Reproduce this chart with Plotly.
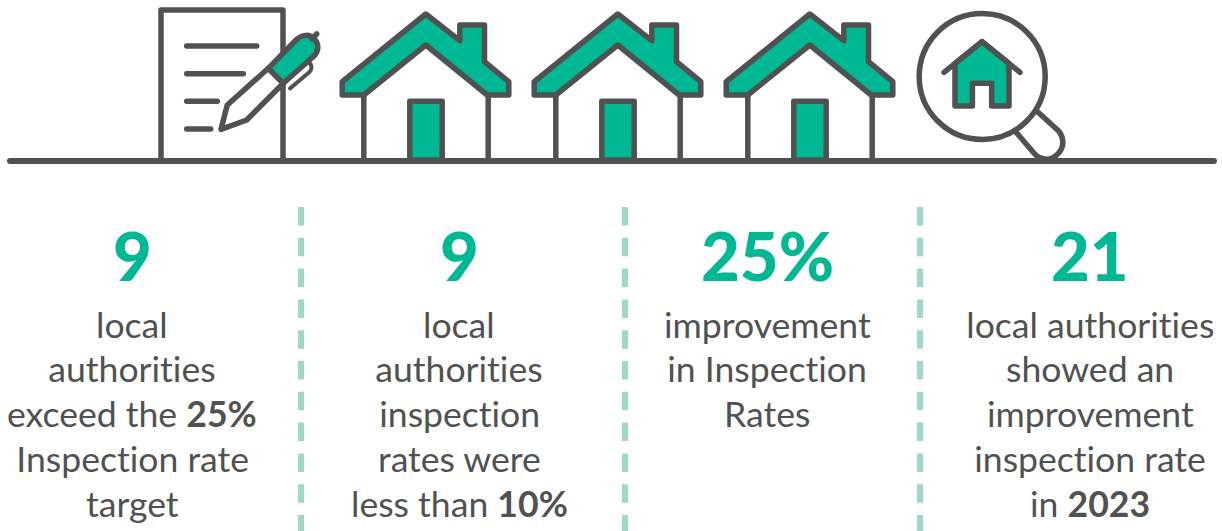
import plotly.graph_objects as go

# ---------- content ----------
headlines = ["9", "9", "25%", "21"]
captions = [
    ["local", "authorities", "exceed the <b>25%</b>", "Inspection rate", "target"],
    ["local", "authorities", "inspection", "rates were", "less than <b>10%</b>"],
    ["improvement", "in Inspection", "Rates"],
    ["local authorities", "showed an", "improvement", "inspection rate", "in <b>2023</b>"],
]
column_centres = [132, 459, 767, 1090]
separator_x = [301, 625, 920]
house_offsets = [0, 192, 384]

# ---------- style ----------
DARK = "#505251"
TEAL = "#00B894"
PALE = "#A0D9C3"
FONT = "Lato, Carlito, sans-serif"
W, H = 1222, 531
LW = 5.5


def zp(points, ox=140, oy=0, close=False):
    s = ""
    for i, (x, y) in enumerate(points):
        s += f"{'M' if i == 0 else 'L'}{x / 3 + ox:.1f},{y / 3 + oy:.1f} "
    return s + ("Z" if close else "")


shapes = []


def add(path, fill=None, lw=LW, color=DARK):
    d = dict(type="path", path=path, line=dict(color=color, width=lw), layer="above")
    d["fillcolor"] = fill if fill else "rgba(0,0,0,0)"
    shapes.append(d)


# document
add("M161,160 L161,10 L283,10 L283,160")
for zy, zx2 in [(138, 350), (221, 310), (304, 232), (387, 212)]:
    add(zp([(140, zy), (zx2, zy)]))

# pen
add(zp([(243, 388), (262, 315), (385, 205), (430, 250), (320, 360)], close=True), fill="white")
add("M268.3,68.3 L296,40 C302,34 310,34 314.5,39 C319,44 319,51 314,56 L283.3,83.3 Z", fill=TEAL)
add(zp([(516, 116), (530, 102)]))
add("M307,62 C311.5,63 313,68 309.5,72 L290,88.5", lw=4)

# houses
roof = [(856, 42), (958, 122), (958, 75), (1032, 75), (1032, 185), (1105, 245),
        (1105, 285), (1040, 285), (856, 135), (670, 285), (605, 285), (605, 245)]
for dx in house_offsets:
    ox = 140.5 + dx
    add(zp([(670, 285), (670, 480)], ox=ox))
    add(zp([(1043, 285), (1043, 480)], ox=ox))
    add(zp(roof, ox=ox, close=True), fill=TEAL)
    add(zp([(808, 480), (808, 304), (905, 304), (905, 480)], ox=ox, close=True), fill=TEAL)

# magnifier
shapes.append(dict(type="circle", x0=919.2, x1=1045.2, y0=13.5, y1=139.5,
                   line=dict(color=DARK, width=LW), fillcolor="white", layer="above"))
add("M1015.7,131.7 L1034.7,154 C1042.7,162 1052.7,160 1058.7,153 C1064.7,146 1063.7,137 1058.7,131 L1036.7,111")
add(zp([(304, 125), (385, 190), (385, 318), (333, 318), (333, 250), (275, 250), (275, 318),
        (223, 318), (223, 190)], ox=880.7, close=True), fill=TEAL)
add(zp([(190, 217), (304, 125), (418, 217)], ox=880.7))

# ground
add("M10,161 L1214,161", lw=6)

# separators
for x in separator_x:
    shapes.append(dict(type="line", x0=x, x1=x, y0=207, y1=531, layer="below",
                       line=dict(color=PALE, width=6, dash="18.5px,12.3px")))

annotations = []
for cx, head, lines in zip(column_centres, headlines, captions):
    annotations.append(dict(x=cx, y=255, text=head, showarrow=False,
                            xanchor="center", yanchor="middle",
                            font=dict(family=FONT, size=67, color=TEAL, weight=900)))
    for i, line in enumerate(lines):
        annotations.append(dict(x=cx, y=324 + i * 44.8, text=line, showarrow=False,
                                xanchor="center", yanchor="middle",
                                font=dict(family=FONT, size=35.6, color=DARK)))

fig = go.Figure()
fig.update_layout(
    width=W, height=H, margin=dict(l=0, r=0, t=0, b=0),
    paper_bgcolor="white", plot_bgcolor="white", showlegend=False,
    xaxis=dict(range=[0, W], visible=False, fixedrange=True),
    yaxis=dict(range=[H, 0], visible=False, fixedrange=True),
    shapes=shapes, annotations=annotations,
)

post = """
document.body.style.margin='0';
document.querySelectorAll('.shapelayer path').forEach(function(p){
  if(!p.style.strokeDasharray || p.style.strokeDasharray==='none'){
    p.style.strokeLinejoin='round'; p.style.strokeLinecap='round';
  }
});
document.querySelectorAll('.annotation-text').forEach(function(t){
  t.style.fontVariantLigatures='none';
});
"""
fig.write_html("out.html", config={"displayModeBar": False}, post_script=post)
